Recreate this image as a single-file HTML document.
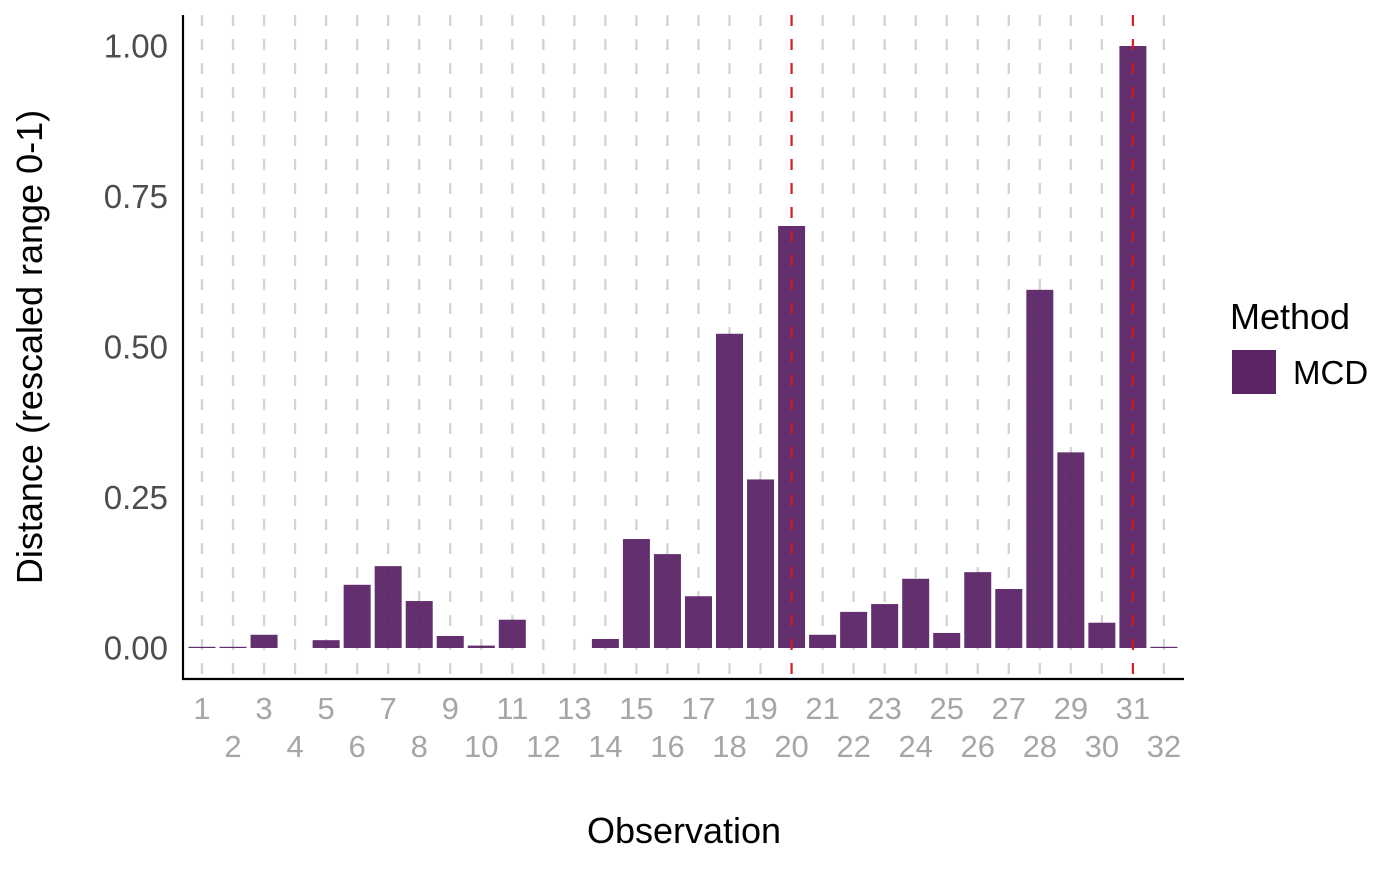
<!DOCTYPE html>
<html><head><meta charset="utf-8"><style>
body{margin:0;background:#fff;font-family:"Liberation Sans",sans-serif}
svg text{font-family:"Liberation Sans",sans-serif}
</style></head><body>
<svg id="chart" width="1400" height="865">
<g id="grid"></g>
<g id="bars"></g>
<g id="refs"></g>
<line x1="183" y1="15" x2="183" y2="679" stroke="#000" stroke-width="2.2"/>
<line x1="182" y1="679" x2="1184" y2="679" stroke="#000" stroke-width="2.2"/>
<g id="yticks"></g>
<g id="xticks"></g>
<text x="684" y="843" font-size="36" text-anchor="middle" fill="#000">Observation</text>
<text transform="translate(42,347) rotate(-90)" font-size="36" text-anchor="middle" fill="#000">Distance (rescaled range 0-1)</text>
<g>
<text x="1230" y="329" font-size="36" fill="#000">Method</text>
<rect x="1232" y="350" width="44" height="44" fill="#5c2466"/>
<text x="1293" y="384" font-size="33" fill="#000">MCD</text>
</g>
</svg>
<script>
const categories = [1,2,3,4,5,6,7,8,9,10,11,12,13,14,15,16,17,18,19,20,21,22,23,24,25,26,27,28,29,30,31,32];
const values = [0.002,0.002,0.022,0,0.013,0.105,0.136,0.078,0.02,0.004,0.047,0,0,0.015,0.181,0.156,0.086,0.522,0.28,0.701,0.022,0.06,0.073,0.115,0.025,0.126,0.098,0.595,0.325,0.042,1.0,0.002];
const yTicks = [0,0.25,0.5,0.75,1.0];
const yTickLabels = ["0.00","0.25","0.50","0.75","1.00"];
const refLines = [20,31];
const NS="http://www.w3.org/2000/svg";
const xs = c => 202 + (c-1)*31.03;
const ys = v => 648 - v*602;
const bw = 27;
function mk(tag, attrs, parent){const e=document.createElementNS(NS,tag);for(const k in attrs)e.setAttribute(k,attrs[k]);parent.appendChild(e);return e;}
const grid=document.getElementById('grid'),bars=document.getElementById('bars'),refs=document.getElementById('refs'),yt=document.getElementById('yticks'),xt=document.getElementById('xticks');
categories.forEach((c,i)=>{
  const g=mk('line',{x1:xs(c),x2:xs(c),y1:15,y2:679,stroke:'#d3d3d3','stroke-width':2.3,'stroke-dasharray':'11,13'},grid);
  
  
  const v=values[i];
  if(v>0){
    const b=mk('rect',{x:xs(c)-bw/2,y:ys(v),width:bw,height:Math.max(ys(0)-ys(v),1),fill:'#5c2466','fill-opacity':0.95},bars);
    
    
  }
  const t=mk('text',{x:xs(c),y:c%2?719:757,'font-size':31,'text-anchor':'middle',fill:'#a6a6a6'},xt);
  t.textContent=c;
  
  
});
refLines.forEach(c=>{
  const l=mk('line',{x1:xs(c),x2:xs(c),y1:15,y2:679,stroke:'#d7191c','stroke-width':2.2,'stroke-dasharray':'11,13','stroke-opacity':0.95},refs);
  
  
});
yTicks.forEach((v,i)=>{
  const t=mk('text',{x:168,y:ys(v)+11.5,'font-size':33,'text-anchor':'end',fill:'#4d4d4d'},yt);
  t.textContent=yTickLabels[i];
  
  
});
</script>
</body></html>
